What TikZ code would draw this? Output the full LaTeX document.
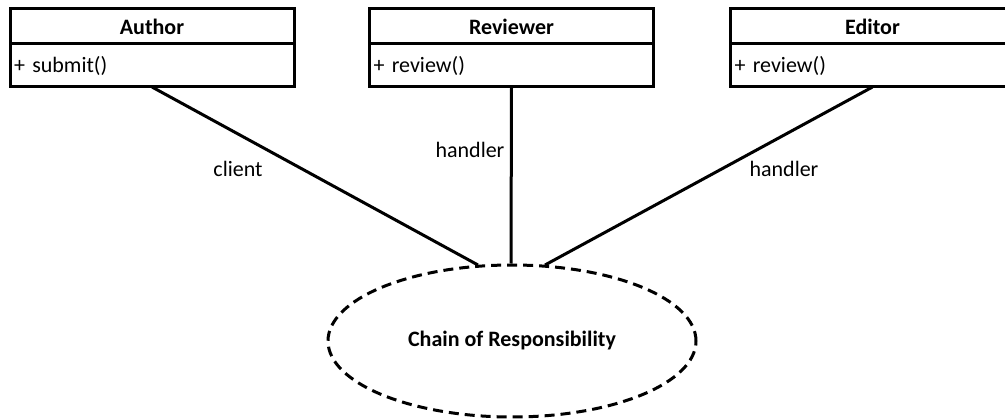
\documentclass[tikz,border=0pt]{standalone}
\usepackage{fontspec}
\setmainfont{Carlito}
\usetikzlibrary{positioning,shapes.geometric,calc}

\begin{document}
\begin{tikzpicture}[
  x=1pt, y=-1pt,
  node distance=0pt,
  classhead/.style={draw, line width=3pt, outer sep=0pt, minimum width=284pt, minimum height=35pt, inner sep=0pt, font=\fontsize{22}{24}\selectfont\bfseries},
  classops/.style={draw, line width=3pt, outer sep=0pt, minimum width=284pt, minimum height=43pt, inner xsep=4pt, inner ysep=0pt, text width=276pt, align=left, font=\fontsize{22}{24}\selectfont},
  usecase/.style={draw, ellipse, dash pattern=on 10pt off 6pt, line width=3pt, minimum width=368pt, minimum height=152pt, inner sep=0pt, font=\fontsize{22}{24}\selectfont\bfseries},
  role/.style={font=\fontsize{22}{24}\selectfont},
  assoc/.style={line width=3pt}
]
\useasboundingbox (0,0) rectangle (1005,420);
\node[classhead] (author) at (152,26.5) {Author};
\node[classops, below=of author] (authorops) {+ submit()};
\node[classhead] (reviewer) at (511.5,26.5) {Reviewer};
\node[classops, below=of reviewer] (reviewerops) {+ review()};
\node[classhead] (editor) at (872.5,26.5) {Editor};
\node[classops, below=of editor] (editorops) {+ review()};
\node[usecase] (chain) at (512,341) {Chain of Responsibility};
\draw[assoc] (authorops.south) -- ([xshift=-34pt,yshift=-1.5pt]chain.north);
\draw[assoc] (reviewerops.south) -- ([xshift=-1pt]chain.north);
\draw[assoc] (editorops.south) -- ([xshift=33pt,yshift=-1.5pt]chain.north);
\node[role] (client) at (238,169) {client};
\node[role] (handlerone) at (470,150) {handler};
\node[role] (handlertwo) at (784,169) {handler};
\end{tikzpicture}
\end{document}
